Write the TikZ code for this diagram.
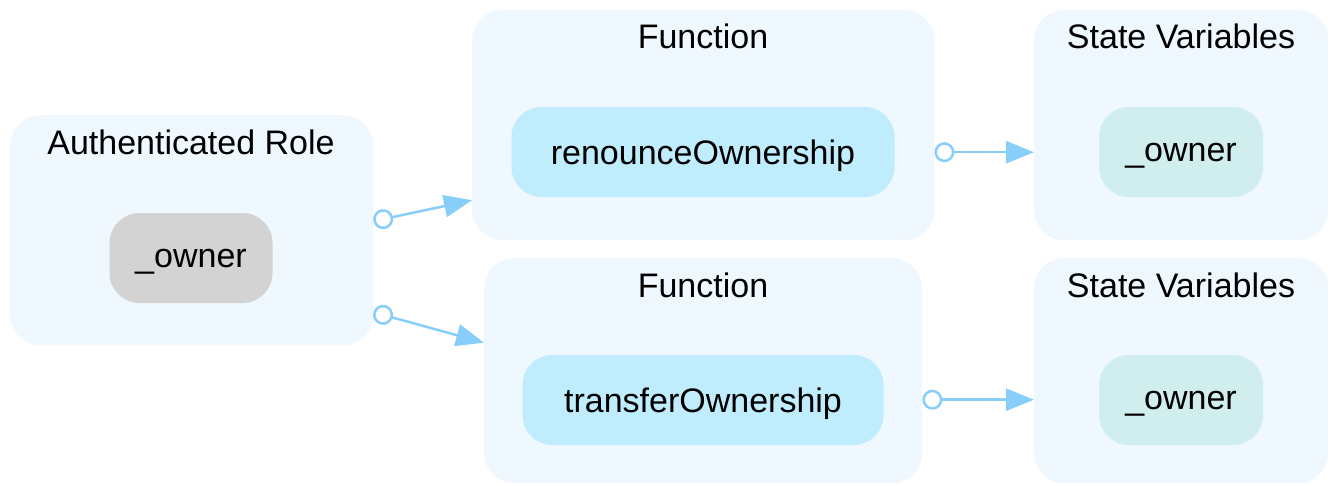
\documentclass[tikz,border=0pt]{standalone}
\usepackage{fontspec}
\setmainfont{Liberation Sans}
\usepackage{tikz}
\usetikzlibrary{arrows.meta, positioning}
\definecolor{clusterbg}{HTML}{EFF7FF}
\definecolor{rolefill}{HTML}{D3D3D3}
\definecolor{funcfill}{HTML}{C0EDFD}
\definecolor{varfill}{HTML}{D0EEEE}
\definecolor{edgeblue}{HTML}{87CEFA}
\tikzstyle{cluster} = [rectangle, rounded corners=30pt, fill=clusterbg, inner sep=0pt, anchor=north west]
\tikzstyle{title} = [font=\fontsize{34}{40}\selectfont, anchor=base]
\tikzstyle{item} = [rectangle, rounded corners=30pt, minimum height=90pt, text depth=0pt, text centered, font=\fontsize{34}{40}\selectfont]
\tikzstyle{flow} = [line width=2.5pt, draw=edgeblue, {Circle[open, length=20pt, fill=white]}-{Triangle[length=28pt, width=22pt]}]

\begin{document}
\begin{tikzpicture}[x=1pt, y=-1pt]
  \useasboundingbox (0,0) rectangle (1334,485);

  % Clusters
  \node (role) [cluster, minimum width=363pt, minimum height=230pt] at (10,115) {};
  \node (fn1) [cluster, minimum width=462pt, minimum height=230pt] at (472,10) {};
  \node (fn2) [cluster, minimum width=438pt, minimum height=225pt] at (484,258) {};
  \node (sv1) [cluster, minimum width=294pt, minimum height=230pt] at (1034,10) {};
  \node (sv2) [cluster, minimum width=294pt, minimum height=225pt] at (1034,258) {};

  % Titles
  \node [title] at (191,154) {Authenticated Role};
  \node [title] at (703,48) {Function};
  \node [title] at (703,297) {Function};
  \node [title] at (1181,48) {State Variables};
  \node [title] at (1181,297) {State Variables};

  % Nodes
  \node (owner) [item, fill=rolefill, minimum width=163pt] at (191,258) {\_owner};
  \node (renounce) [item, fill=funcfill, minimum width=383pt] at (703,152) {renounceOwnership};
  \node (transfer) [item, fill=funcfill, minimum width=361pt] at (703,400) {transferOwnership};
  \node (var1) [item, fill=varfill, minimum width=164pt] at (1181,152) {\_owner};
  \node (var2) [item, fill=varfill, minimum width=164pt] at (1181,400) {\_owner};

  % Arrows
  \draw[flow] ([yshift=9pt]role.east) -- ([yshift=-75pt]fn1.west);
  \draw[flow] ([yshift=-82pt]role.east) -- ([yshift=28pt]fn2.west);
  \draw[flow] ([yshift=-27pt]fn1.east) -- ([yshift=-27pt]sv1.west);
  \draw[flow] ([yshift=-29pt]fn2.east) -- ([yshift=-29pt]sv2.west);

\end{tikzpicture}
\end{document}
